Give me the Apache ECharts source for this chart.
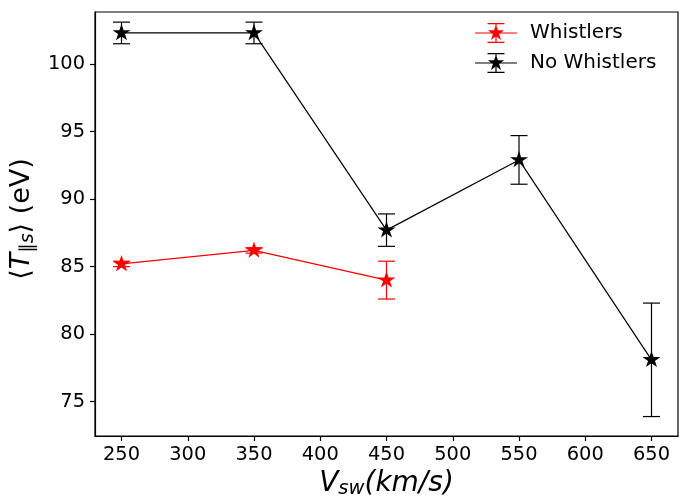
<!DOCTYPE html>
<html><head><meta charset="utf-8">
<script src="https://cdn.jsdelivr.net/npm/echarts@6/dist/echarts.min.js"></script>
<style>html,body{margin:0;padding:0;background:#fff}#c{width:692px;height:497px}</style>
</head><body><div id="c"></div>
<script>
const xTicks = [250, 300, 350, 400, 450, 500, 550, 600, 650];
const yTicks = [75, 80, 85, 90, 95, 100];
const wX = [250, 350, 450];
const wY = [85.2, 86.2, 84.0];
const wErr = [0.2, 0.2, 1.4];
const nwX = [250, 350, 450, 550, 650];
const nwY = [102.3, 102.3, 87.7, 92.9, 78.1];
const nwErr = [0.8, 0.8, 1.2, 1.8, 4.2];

const FONT = 'DejaVu Sans';
const starPath = 'path://M0 -1 L0.2245 -0.309 L0.9511 -0.309 L0.3633 0.118 L0.5878 0.809 L0 0.382 L-0.5878 0.809 L-0.3633 0.118 L-0.9511 -0.309 L-0.2245 -0.309 Z';
const legendIcon = 'path://M0 9.4 H42 V10.6 H0 Z M20.4 0 H21.6 V20 H20.4 Z M12.5 0 H29.5 V1.2 H12.5 Z M12.5 18.8 H29.5 V20 H12.5 Z ' +
  'M21 1.5 L22.94 7.33 L29.08 7.37 L24.14 11.02 L26 16.88 L21 13.3 L16 16.88 L17.86 11.02 L12.92 7.37 L19.06 7.33 Z';

function errData(xs, ys, es) { return xs.map((x, i) => [x, ys[i] - es[i], ys[i] + es[i]]); }
function errSeries(name, xs, ys, es, color, z) {
  return {
    type: 'custom', name: name + ' err', z: z, silent: true,
    data: errData(xs, ys, es),
    renderItem: function (params, api) {
      const x = api.value(0);
      const p1 = api.coord([x, api.value(1)]);
      const p2 = api.coord([x, api.value(2)]);
      const h = 8.5;
      const st = { stroke: color, lineWidth: 1.2 };
      return { type: 'group', children: [
        { type: 'line', shape: { x1: p1[0], y1: p1[1], x2: p2[0], y2: p2[1] }, style: st },
        { type: 'line', shape: { x1: p1[0] - h, y1: p1[1], x2: p1[0] + h, y2: p1[1] }, style: st },
        { type: 'line', shape: { x1: p2[0] - h, y1: p2[1], x2: p2[0] + h, y2: p2[1] }, style: st }
      ]};
    }
  };
}
function lineSeries(name, xs, ys, color, z) {
  return {
    type: 'line', name: name, z: z,
    data: xs.map((x, i) => [x, ys[i]]),
    symbol: starPath, symbolSize: [18, 17], symbolKeepAspect: true, symbolOffset: [0, -0.8],
    itemStyle: { color: color },
    lineStyle: { color: color, width: 1.2 },
    showSymbol: true, animation: false
  };
}

const chart = echarts.init(document.getElementById('c'));
chart.setOption({
  animation: false,
  backgroundColor: '#fff',
  grid: { left: 95, right: 14, top: 12, bottom: 61, show: true, borderColor: '#000', borderWidth: 1.2, containLabel: false, outerBoundsMode: 'none' },
  legend: {
    orient: 'vertical', left: 470, top: 18, itemWidth: 42, itemHeight: 20, itemGap: 10,
    data: [{ name: 'Whistlers', icon: legendIcon }, { name: 'No Whistlers', icon: legendIcon }],
    textStyle: { fontFamily: FONT, fontSize: 20, color: '#000', padding: [0, 0, 0, 8] }
  },
  xAxis: {
    type: 'value', min: 230, max: 670,
    axisLine: { show: true, lineStyle: { color: '#000', width: 1.2 } },
    axisTick: { show: true, length: 5, customValues: xTicks, lineStyle: { color: '#000', width: 1.2 } },
    axisLabel: { customValues: xTicks, margin: 9, fontFamily: FONT, fontSize: 19.4, color: '#000' },
    splitLine: { show: false },
    name: '{v|V}{s|sw}{n|(km/s)}', nameLocation: 'middle', nameGap: 32,
    nameTextStyle: {
      rich: {
        v: { fontFamily: FONT, fontStyle: 'italic', fontSize: 28, color: '#000' },
        s: { fontFamily: FONT, fontStyle: 'italic', fontSize: 19.5, color: '#000', verticalAlign: 'bottom', padding: [11, 0, 0, 0] },
        n: { fontFamily: FONT, fontStyle: 'italic', fontSize: 28, color: '#000' }
      }
    }
  },
  yAxis: {
    type: 'value', min: 72.46, max: 103.85,
    axisLine: { show: true, lineStyle: { color: '#000', width: 1.2 } },
    axisTick: { show: true, length: 5, customValues: yTicks, lineStyle: { color: '#000', width: 1.2 } },
    axisLabel: { customValues: yTicks, margin: 10, fontFamily: FONT, fontSize: 19.4, color: '#000' },
    splitLine: { show: false },
    name: '{a|⟨}{t|T}{s|∥s}{a|⟩ (eV)}', nameLocation: 'middle', nameGap: 42,
    nameTextStyle: {
      padding: [0, 0, 0, 10],
      rich: {
        a: { fontFamily: FONT, fontSize: 27, color: '#000' },
        t: { fontFamily: FONT, fontStyle: 'italic', fontSize: 27, color: '#000' },
        s: { fontFamily: FONT, fontStyle: 'italic', fontSize: 19, color: '#000', padding: [12, 0, 0, 0] }
      }
    }
  },
  series: [
    lineSeries('Whistlers', wX, wY, '#ff0000', 3),
    errSeries('Whistlers', wX, wY, wErr, '#ff0000', 2),
    lineSeries('No Whistlers', nwX, nwY, '#000000', 5),
    errSeries('No Whistlers', nwX, nwY, nwErr, '#000000', 4)
  ]
});
</script></body></html>
